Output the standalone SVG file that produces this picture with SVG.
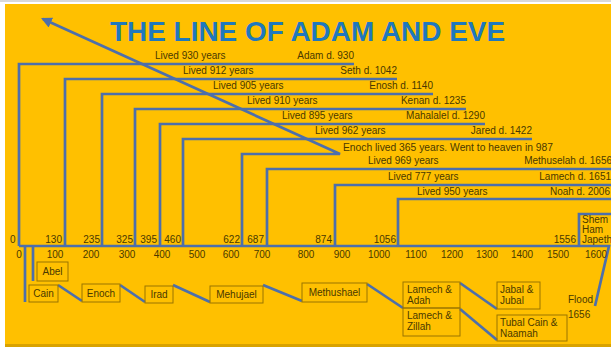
<svg xmlns="http://www.w3.org/2000/svg" width="611" height="347" viewBox="0 0 611 347">
<defs>
<style>
.ln{fill:none;stroke:#4d6fab;stroke-width:2.7;stroke-linejoin:miter}
.t{font-family:"Liberation Sans",Arial,sans-serif;font-size:10px;fill:#4a3900}
.e{text-anchor:end}
.m{text-anchor:middle}
.bx{fill:none;stroke:#9a7400;stroke-width:1}
.title{font-family:"Liberation Sans",Arial,sans-serif;font-size:28px;font-weight:bold;fill:#1f78bd}
</style>
<marker id="ah" viewBox="0 0 10 10" refX="8" refY="5" markerWidth="4" markerHeight="4" orient="auto" markerUnits="strokeWidth">
<path d="M0,0 L10,5 L0,10 z" fill="#4d6fab"/>
</marker>
</defs>
<rect x="0" y="0" width="611" height="347" fill="#ffffff"/>
<rect x="0" y="0" width="611" height="2" fill="#d9d9d9"/>
<rect x="5" y="4" width="606" height="341" fill="#ffc000"/>
<rect x="5" y="344" width="606" height="3" fill="#d9a200"/>
<text class="title" x="110" y="41" textLength="395" lengthAdjust="spacingAndGlyphs">THE LINE OF ADAM AND EVE</text>

<g id="connectors">
<path class="ln" d="M19,246 H609 L595,306"/>
<path class="ln" d="M25,246 V302"/>
<path class="ln" d="M33,246 V281"/>
<path class="ln" d="M58,285 L82,301"/>
<path class="ln" d="M120,285 L145,302"/>
<path class="ln" d="M173,285 L210,302"/>
<path class="ln" d="M263,285 L302,301"/>
<path class="ln" d="M367,284 L403,308"/>
<path class="ln" d="M460,283 L497,309"/>
<path class="ln" d="M460,309 L497,340"/>
</g>

<g id="adam">
<path class="ln" d="M19,246 V64 H354"/>
<text class="t" x="155" y="59">Lived 930 years</text>
<text class="t e" x="354" y="59">Adam d. 930</text>
<text class="t" x="10" y="243">0</text>
</g>
<g id="seth">
<path class="ln" d="M65,246 V79 H397"/>
<text class="t" x="183" y="74">Lived 912 years</text>
<text class="t e" x="397" y="74">Seth d. 1042</text>
<text class="t e" x="62" y="243">130</text>
</g>
<g id="enosh">
<path class="ln" d="M102,246 V94 H433"/>
<text class="t" x="213" y="89">Lived 905 years</text>
<text class="t e" x="433" y="89">Enosh d. 1140</text>
<text class="t e" x="100" y="243">235</text>
</g>
<g id="kenan">
<path class="ln" d="M135,246 V109 H466"/>
<text class="t" x="247" y="104">Lived 910 years</text>
<text class="t e" x="466" y="104">Kenan d. 1235</text>
<text class="t e" x="133" y="243">325</text>
</g>
<g id="mahalalel">
<path class="ln" d="M160,246 V124 H485"/>
<text class="t" x="282" y="119">Lived 895 years</text>
<text class="t e" x="485" y="119">Mahalalel d. 1290</text>
<text class="t e" x="157" y="243">395</text>
</g>
<g id="jared">
<path class="ln" d="M183,246 V139 H532"/>
<text class="t" x="315" y="134">Lived 962 years</text>
<text class="t e" x="532" y="134">Jared d. 1422</text>
<text class="t e" x="181" y="243">460</text>
</g>
<g id="enoch">
<path class="ln" d="M242,246 V154 H340 L43,19" marker-end="url(#ah)"/>
<text class="t" x="343" y="151" textLength="210" lengthAdjust="spacingAndGlyphs">Enoch lived 365 years. Went to heaven in 987</text>
<text class="t e" x="240" y="243">622</text>
</g>
<g id="methuselah">
<path class="ln" d="M267,246 V169 H611"/>
<text class="t" x="368" y="164">Lived 969 years</text>
<text class="t e" x="612" y="164">Methuselah d. 1656</text>
<text class="t e" x="264" y="243">687</text>
</g>
<g id="lamech">
<path class="ln" d="M335,246 V185 H611"/>
<text class="t" x="388" y="180">Lived 777 years</text>
<text class="t e" x="611" y="180">Lamech d. 1651</text>
<text class="t e" x="332" y="243">874</text>
</g>
<g id="noah">
<path class="ln" d="M398,246 V199 H611"/>
<text class="t" x="417" y="195">Lived 950 years</text>
<text class="t e" x="610" y="195">Noah d. 2006</text>
<text class="t e" x="396" y="243">1056</text>
</g>
<g id="sons">
<path class="ln" d="M579,246 V214 H611"/>
<text class="t" x="582" y="223">Shem</text>
<text class="t" x="582" y="233">Ham</text>
<text class="t" x="582" y="243">Japeth</text>
<text class="t e" x="576" y="243">1556</text>
</g>

<g id="scale">
<text class="t m" x="19" y="258">0</text>
<text class="t m" x="55" y="258">100</text>
<text class="t m" x="91" y="258">200</text>
<text class="t m" x="127" y="258">300</text>
<text class="t m" x="162" y="258">400</text>
<text class="t m" x="197" y="258">500</text>
<text class="t m" x="231" y="258">600</text>
<text class="t m" x="262" y="258">700</text>
<text class="t m" x="306" y="258">800</text>
<text class="t m" x="342" y="258">900</text>
<text class="t m" x="379" y="258">1000</text>
<text class="t m" x="416" y="258">1100</text>
<text class="t m" x="452" y="258">1200</text>
<text class="t m" x="487" y="258">1300</text>
<text class="t m" x="522" y="258">1400</text>
<text class="t m" x="558" y="258">1500</text>
<text class="t m" x="596" y="258">1600</text>
</g>

<g id="abel"><rect class="bx" x="37" y="262" width="31" height="19"/><text class="t m" x="52.5" y="275">Abel</text></g>
<g id="cain"><rect class="bx" x="29" y="285" width="29" height="17"/><text class="t m" x="43.5" y="297">Cain</text></g>
<g id="enoch-c"><rect class="bx" x="82" y="284" width="38" height="18"/><text class="t m" x="101" y="297">Enoch</text></g>
<g id="irad"><rect class="bx" x="145" y="286" width="28" height="17"/><text class="t m" x="159" y="298">Irad</text></g>
<g id="mehujael"><rect class="bx" x="210" y="286" width="53" height="17"/><text class="t m" x="236.5" y="298">Mehujael</text></g>
<g id="methushael"><rect class="bx" x="302" y="283" width="65" height="19"/><text class="t m" x="334.5" y="296">Methushael</text></g>
<g id="lamech-adah"><rect class="bx" x="403" y="282" width="57" height="26"/><text class="t" x="407" y="293">Lamech &amp;</text><text class="t" x="407" y="304">Adah</text></g>
<g id="lamech-zillah"><rect class="bx" x="403" y="308" width="57" height="28"/><text class="t" x="407" y="319">Lamech &amp;</text><text class="t" x="407" y="330">Zillah</text></g>
<g id="jabal"><rect class="bx" x="497" y="282" width="43" height="27"/><text class="t" x="500" y="293">Jabal &amp;</text><text class="t" x="500" y="304">Jubal</text></g>
<g id="tubal"><rect class="bx" x="497" y="315" width="70" height="26"/><text class="t" x="500" y="326">Tubal Cain &amp;</text><text class="t" x="500" y="337">Naamah</text></g>
<g id="flood"><text class="t" x="568" y="303">Flood</text><text class="t" x="568" y="318">1656</text></g>
</svg>
